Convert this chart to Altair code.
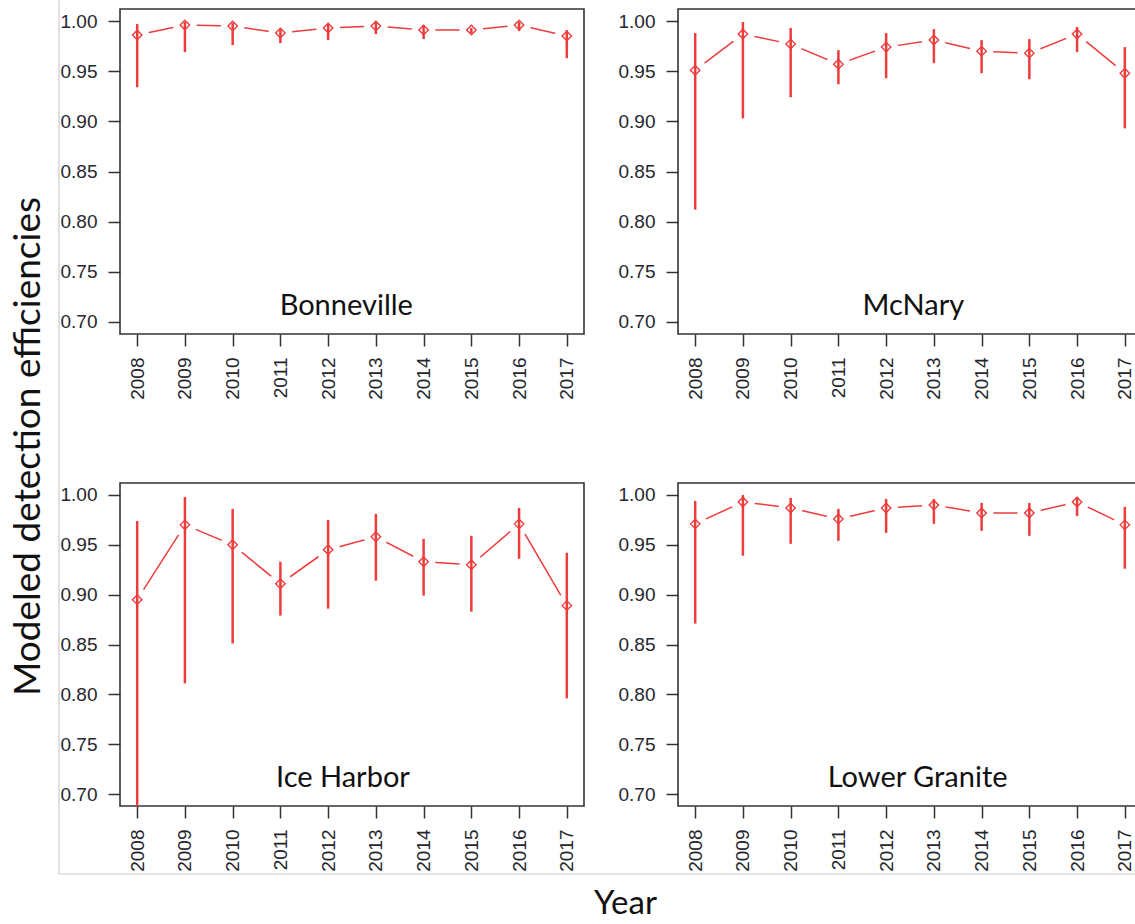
import altair as alt
import pandas as pd

years = [2008, 2009, 2010, 2011, 2012, 2013, 2014, 2015, 2016, 2017]
y_ticks = [0.70, 0.75, 0.80, 0.85, 0.90, 0.95, 1.00]

bonneville_est = [0.986, 0.996, 0.995, 0.988, 0.993, 0.995, 0.991, 0.991, 0.996, 0.985]
bonneville_lo = [0.934, 0.969, 0.976, 0.978, 0.981, 0.987, 0.982, 0.988, 0.990, 0.963]
bonneville_hi = [0.997, 0.999, 0.998, 0.992, 0.997, 0.999, 0.996, 0.993, 0.999, 0.991]

mcnary_est = [0.951, 0.987, 0.977, 0.957, 0.974, 0.981, 0.970, 0.968, 0.987, 0.948]
mcnary_lo = [0.812, 0.903, 0.924, 0.937, 0.943, 0.958, 0.948, 0.942, 0.969, 0.893]
mcnary_hi = [0.988, 0.999, 0.993, 0.971, 0.988, 0.992, 0.981, 0.982, 0.994, 0.974]

iceharbor_est = [0.895, 0.970, 0.950, 0.911, 0.945, 0.958, 0.933, 0.930, 0.971, 0.889]
iceharbor_lo = [0.660, 0.811, 0.851, 0.879, 0.886, 0.914, 0.899, 0.883, 0.936, 0.796]
iceharbor_hi = [0.974, 0.998, 0.986, 0.933, 0.975, 0.981, 0.956, 0.959, 0.987, 0.942]

lowergranite_est = [0.971, 0.993, 0.987, 0.976, 0.987, 0.990, 0.982, 0.982, 0.993, 0.970]
lowergranite_lo = [0.871, 0.939, 0.951, 0.954, 0.962, 0.971, 0.964, 0.959, 0.979, 0.926]
lowergranite_hi = [0.994, 1.000, 0.997, 0.986, 0.996, 0.996, 0.992, 0.992, 0.998, 0.988]

site_names = ["Bonneville", "McNary", "Ice Harbor", "Lower Granite"]
label_x = [2012.38, 2012.57, 2012.31, 2012.66]
label_y = 0.716

RED = "#EE3B3B"
PW = 464
X_DOMAIN = [2007.64, 2017.36]
Y_DOMAIN = [0.688, 1.012]


def panel(name, est, lo, hi, lx, height, y_title=None, x_title=None, frame=False):
    df = pd.DataFrame({"year": years, "est": est, "lo": lo, "hi": hi})
    xs = alt.Scale(domain=X_DOMAIN, nice=False, zero=False)
    ys = alt.Scale(domain=Y_DOMAIN, nice=False, zero=False)
    xaxis_kw = dict(values=years, format="d", labelAngle=270, labelFlush=False,
                    labelOverlap=False)
    if x_title:
        xaxis_kw.update(title=x_title, titleX=505, titleY=97, titleAlign="center",
                        titleBaseline="middle", titleFontSize=33, titleAngle=0)
    else:
        xaxis_kw.update(title=None)
    yaxis_kw = dict(values=y_ticks, format=".2f", labelFlush=False, labelOverlap=False)
    if y_title:
        yaxis_kw.update(title=y_title, titleX=-92, titleY=437, titleAngle=270,
                        titleAlign="center", titleBaseline="middle", titleFontSize=37)
    else:
        yaxis_kw.update(title=None)
    xaxis = alt.Axis(**xaxis_kw)
    yaxis = alt.Axis(**yaxis_kw)

    def X(f):
        return alt.X(f, scale=xs, axis=xaxis)

    def Y(f):
        return alt.Y(f, scale=ys, axis=yaxis)

    base = alt.Chart(df)
    line = base.mark_line(color=RED, strokeWidth=1.5).encode(x=X("year:Q"), y=Y("est:Q"))
    mask = base.mark_circle(size=560, opacity=1).encode(
        x=X("year:Q"), y=Y("est:Q"), color=alt.value("#ffffff"))
    bars = base.mark_rule(color=RED, strokeWidth=2.5, clip=True).encode(
        x=X("year:Q"), y=Y("lo:Q"), y2="hi:Q")
    pts = base.mark_point(shape="diamond", filled=False, color=RED, size=90,
                          strokeWidth=1.4, opacity=1).encode(x=X("year:Q"), y=Y("est:Q"))
    lab = alt.Chart(pd.DataFrame({"x": [lx], "y": [label_y], "t": [name]})).mark_text(
        font="Lato", fontSize=29, color="#111111", align="center", baseline="middle"
    ).encode(x=X("x:Q"), y=Y("y:Q"), text="t:N")
    layers = [line, mask, bars, pts, lab]
    if frame:
        one = pd.DataFrame({"a": [0]})
        fv = alt.Chart(one).mark_rule(color="#cccccc", strokeWidth=1.2).encode(
            x=alt.value(-61), y=alt.value(-483), y2=alt.value(391))
        fh = alt.Chart(one).mark_rule(color="#cccccc", strokeWidth=1.2).encode(
            x=alt.value(-61), x2=alt.value(1015), y=alt.value(391))
        layers = [fv, fh] + layers
    return alt.layer(*layers).properties(width=PW, height=height)


tl = panel(site_names[0], bonneville_est, bonneville_lo, bonneville_hi, label_x[0], 325,
           y_title="Modeled detection efficiencies")
tr = panel(site_names[1], mcnary_est, mcnary_lo, mcnary_hi, label_x[1], 325)
bl = panel(site_names[2], iceharbor_est, iceharbor_lo, iceharbor_hi, label_x[2], 323,
           x_title="Year", frame=True)
br = panel(site_names[3], lowergranite_est, lowergranite_lo, lowergranite_hi, label_x[3], 323)

chart = alt.concat(
    tl, tr, bl, br, columns=2, spacing={"row": 149, "column": 94}, bounds="flush"
).properties(
    autosize=alt.AutoSizeParams(type="none"),
    padding={"left": 120, "top": 9, "right": 1015, "bottom": 915},
    background="white",
).configure_view(
    stroke="#333333", strokeWidth=1.6
).configure_axis(
    labelFont="Liberation Sans", labelFontSize=19, labelColor="#26262e",
    tickColor="#333333", tickWidth=1.5, tickSize=12, labelPadding=11,
    domain=False, grid=False, titleFont="Lato", titleFontWeight="normal",
    titleColor="#111111"
)

chart.save("out.html", embed_options={"renderer": "svg", "actions": False})
